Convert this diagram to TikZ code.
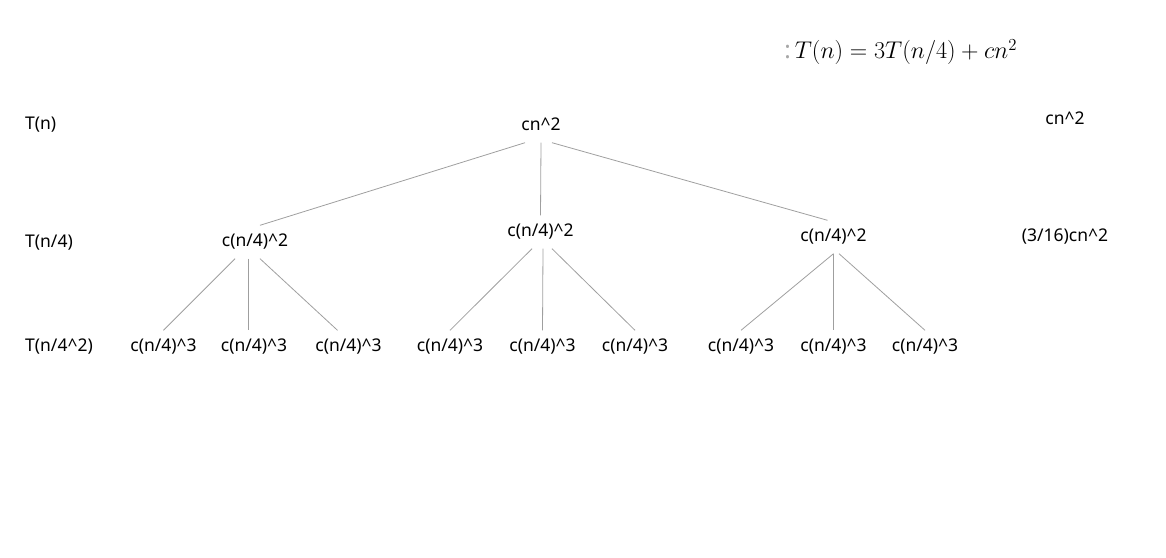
\documentclass[tikz,border=0pt]{standalone}
\usepackage{fontspec}
\setmainfont{Noto Sans}
\tikzset{
  treenode/.style={font=\fontsize{17.5}{21}\selectfont, inner xsep=0pt, inner ysep=8pt,
    text height=13pt, text depth=4pt},
  treeedge/.style={draw=gray!75, line width=0.8pt}
}
\begin{document}
\begin{tikzpicture}[x=1pt,y=-1pt]
  \useasboundingbox (0,0) rectangle (1166,557);
  \node[anchor=west, font=\fontsize{17.28}{21}\selectfont, scale=1.4, transform shape, inner sep=0pt] (rec) at (784,52)
    {{\color{gray!70}:}\,$T(n) = 3T(n/4) + cn^2$};
  \draw[treenode]
    (25,125) node[treenode, anchor=west] (lvl0){T(n)}
    (25,243) node[treenode, anchor=west] (lvl1){T(n/4)}
    (25,347) node[treenode, anchor=west] (lvl2){T(n/4\^{}2)}
    (1065,120) node[treenode] (sum0){cn\^{}2}
    (1065,237) node[treenode] (sum1){(3/16)cn\^{}2}
    (541,126) node[treenode] (root){cn\^{}2}
    (255,242) node[treenode] (c1){c(n/4)\^{}2}
    (540.5,232) node[treenode] (c2){c(n/4)\^{}2}
    (833.5,237) node[treenode] (c3){c(n/4)\^{}2}
    (163.5,347) node[treenode] (g1){c(n/4)\^{}3}
    (254,347) node[treenode] (g2){c(n/4)\^{}3}
    (348.5,347) node[treenode] (g3){c(n/4)\^{}3}
    (450,347) node[treenode] (g4){c(n/4)\^{}3}
    (542.5,347) node[treenode] (g5){c(n/4)\^{}3}
    (635,347) node[treenode] (g6){c(n/4)\^{}3}
    (741,347) node[treenode] (g7){c(n/4)\^{}3}
    (833.5,347) node[treenode] (g8){c(n/4)\^{}3}
    (925,347) node[treenode] (g9){c(n/4)\^{}3};
  \begin{scope}[treeedge]
    \draw ([xshift=-16pt]root.south) to ([xshift=5pt]c1.north);
    \draw (root.south) to (c2.north);
    \draw ([xshift=11pt]root.south) to ([xshift=-6pt]c3.north);
    \draw ([xshift=-20pt]c1.south) to (g1.north);
    \draw ([xshift=-7pt]c1.south) to ([xshift=-6pt]g2.north);
    \draw ([xshift=5pt]c1.south) to ([xshift=-11pt]g3.north);
    \draw ([xshift=-8.5pt]c2.south) to (g4.north);
    \draw ([xshift=2.5pt]c2.south) to (g5.north);
    \draw ([xshift=11.5pt]c2.south) to (g6.north);
    \draw (c3.south) to (g7.north);
    \draw (c3.south) to (g8.north);
    \draw ([xshift=5.5pt]c3.south) to (g9.north);
  \end{scope}
\end{tikzpicture}
\end{document}
